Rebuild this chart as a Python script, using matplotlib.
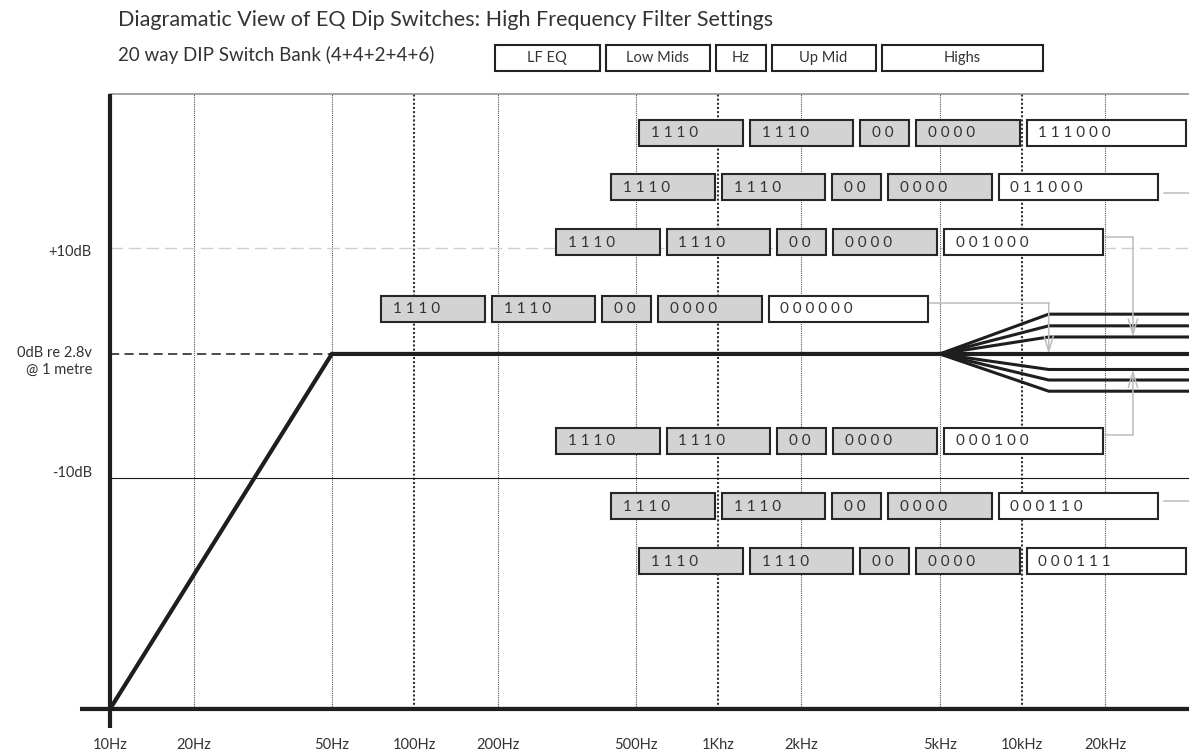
import numpy as np
import matplotlib
matplotlib.use('Agg')
import matplotlib.pyplot as plt
from matplotlib.patches import Rectangle
from matplotlib.ticker import NullLocator

plt.rcParams['font.family'] = ['Lato', 'DejaVu Sans']

# ---------------- data ----------------
title = "Diagramatic View of EQ Dip Switches: High Frequency Filter Settings"
subtitle = "20 way DIP Switch Bank (4+4+2+4+6)"
groups = ['LF EQ', 'Low Mids', 'Hz', 'Up Mid', 'Highs']
fixed_codes = ['1110', '1110', '00', '0000']
highs_codes = ['111000', '011000', '001000', '000000', '000100', '000110', '000111']
shelf_db = [3.75, 2.65, 1.6, 0.0, -1.25, -2.1, -3.0]

tick_freqs = [10, 20, 50, 100, 200, 500, 1000, 2000, 5000, 10000, 20000]
tick_labels = ['10Hz', '20Hz', '50Hz', '100Hz', '200Hz', '500Hz', '1Khz',
               '2kHz', '5kHz', '10kHz', '20kHz']

lf_freqs = [10, 50, 5000]          # low-frequency roll-off and flat section
lf_db = [-28.6, 0.0, 0.0]
shelf_freqs = [5000, 12500, 40000]  # high shelf fan-out
db_marks = [10, 0, -10]
db_labels = ['+10dB', '0dB re 2.8v\n@ 1 metre', '-10dB']
arrow_hz = {'000000': 12500, '001000': 24000, '000100': 24000}

# ---------------- scales (schematic frequency axis) ----------------
_r_src = [0.0, np.log10(2), np.log10(5), 1.0]
_r_dst = [0.0, 0.275, 0.73, 1.0]

def fx(f):
    f = np.asarray(f, dtype=float)
    d = np.log10(np.clip(f, 1e-6, None) / 10.0)
    n = np.floor(d)
    return n + np.interp(d - n, _r_src, _r_dst)

def fx_inv(u):
    u = np.asarray(u, dtype=float)
    n = np.floor(u)
    return 10.0 * 10 ** (n + np.interp(u - n, _r_dst, _r_src))

K_NEG = 1.17
def fy(y):
    y = np.asarray(y, dtype=float)
    return np.where(y >= 0, y, y * K_NEG)

def fy_inv(u):
    u = np.asarray(u, dtype=float)
    return np.where(u >= 0, u, u / K_NEG)

W, H = 1189, 753
fig = plt.figure(figsize=(W / 100, H / 100), dpi=100, facecolor='white')

AX_L, AX_R, AX_T, AX_B = 110, 1189, 94, 709
ax = fig.add_axes([AX_L / W, (H - AX_B) / H, (AX_R - AX_L) / W, (AX_B - AX_T) / H])
ax.set_xscale('function', functions=(fx, fx_inv))
ax.set_yscale('function', functions=(fy, fy_inv))
ax.set_xlim(10, 34800)
ax.set_ylim(-28.6, 24.5)
for s in ax.spines.values():
    s.set_visible(False)
ax.set_facecolor('white')

# vertical grid lines
for f in tick_freqs[1:]:
    heavy = f in (100, 1000, 10000)
    ax.axvline(f, color='#333333' if heavy else '#555555',
               lw=1.5 if heavy else 0.8, ls=(0, (1, 1)), zorder=1)

# horizontal reference lines
ax.axhline(10, color='#cfcfcf', lw=1.0, dashes=(9, 4), zorder=1)
ax.axhline(-10, color='#1a1a1a', lw=0.8, zorder=1)
ax.plot([10, 50], [0, 0], color='#1a1a1a', lw=1.1, dashes=(6, 3.5), zorder=1)

# response curve
ax.plot(lf_freqs, lf_db, color='#1e1e1e', lw=3.0, solid_capstyle='butt',
        solid_joinstyle='miter', zorder=3)
for lvl in shelf_db:
    ax.plot(shelf_freqs, [0, lvl, lvl], color='#1e1e1e',
            lw=3.0 if lvl == 0 else 2.2, solid_joinstyle='miter', zorder=3)

# ticks
ax.set_xticks(tick_freqs, tick_labels)
ax.xaxis.set_minor_locator(NullLocator())
ax.tick_params(axis='x', length=0, pad=21, labelsize=10.5, labelcolor='#333333')
ax.set_yticks([])
ax.yaxis.set_minor_locator(NullLocator())

label_offsets = {10: -2.9, 0: -5.5, -10: 3.6}
for v, lab in zip(db_marks, db_labels):
    ax.annotate(lab, xy=(0, v), xycoords=('axes fraction', 'data'),
                xytext=(-13, label_offsets[v]), textcoords='offset points',
                ha='right', va='center', fontsize=10.5, color='#333333',
                linespacing=1.2, annotation_clip=False)

# ---------------- overlay (pixel coordinates) ----------------
ov = fig.add_axes([0, 0, 1, 1])
ov.set_xlim(0, W)
ov.set_ylim(H, 0)
ov.axis('off')
ov.patch.set_alpha(0)
ov.set_zorder(5)

def to_px(f, db):
    x, y = ax.transData.transform((f, db))
    return x, H - y

# frame lines
ov.plot([AX_L, W], [AX_T, AX_T], color='#8a8a8a', lw=1.1)
ov.plot([80, W], [AX_B - 2.5, AX_B - 2.5], color='#aaaaaa', lw=1.0)
ov.plot([80, W], [AX_B, AX_B], color='#1e1e1e', lw=3.0, solid_capstyle='butt')
ov.plot([AX_L, AX_L], [AX_T, 728], color='#1e1e1e', lw=3.0, solid_capstyle='butt')

# titles
ov.text(118, 20, title, fontsize=15.5, color='#333333', ha='left', va='center')
ov.text(118, 55, subtitle, fontsize=13.5, color='#333333', ha='left', va='center')

# header boxes
hdr_w = [105, 104, 50, 104, 161]
x = 494.5
for name, w in zip(groups, hdr_w):
    ov.add_patch(Rectangle((x, 44.5), w, 26, facecolor='white',
                           edgecolor='#222222', lw=1.5))
    ov.text(x + w / 2, 57.5, name, fontsize=10.5, color='#333333',
            ha='center', va='center')
    x += w + 6

# switch rows
box_w = [103.5, 103.5, 49, 103.5, 159.5]
gap = 7
row_x0 = [639, 611, 556, 381, 556, 611, 639]
row_yc = [132.5, 187, 242, 308.5, 440.5, 506, 561]
conn_dy = {'011000': 5.7, '001000': -5.3, '000000': -5.7, '000100': -6.0,
           '000110': -5.3}
bh = 26
for code, lvl, x0, yc in zip(highs_codes, shelf_db, row_x0, row_yc):
    x = x0
    texts = fixed_codes + [code]
    for i, (t, w) in enumerate(zip(texts, box_w)):
        fc = 'white' if i == 4 else '#d3d3d3'
        ov.add_patch(Rectangle((x, yc - bh / 2), w, bh, facecolor=fc,
                               edgecolor='#262626', lw=1.5, zorder=3))
        ov.text(x + 12, yc + 0.5, ' '.join(t), fontsize=11, color='#333333',
                ha='left', va='center', zorder=4)
        x += w + gap
    right = x - gap
    if code in conn_dy:
        cy = yc + conn_dy[code]
        if code in arrow_hz:
            ax_x, ty = to_px(arrow_hz[code], lvl)
            ov.plot([right + 1.5, ax_x], [cy, cy], color='#bdbdbd', lw=1.1,
                    zorder=2)
            ov.annotate('', xy=(ax_x, ty), xytext=(ax_x, cy),
                        arrowprops=dict(arrowstyle='->,head_length=1.1,head_width=0.33',
                                        color='#bdbdbd', lw=1.1,
                                        shrinkA=0, shrinkB=0), zorder=2)
        else:
            ov.plot([right + 6, W], [cy, cy], color='#bdbdbd', lw=1.1, zorder=2)

fig.savefig('out.png', dpi=100, facecolor='white')
